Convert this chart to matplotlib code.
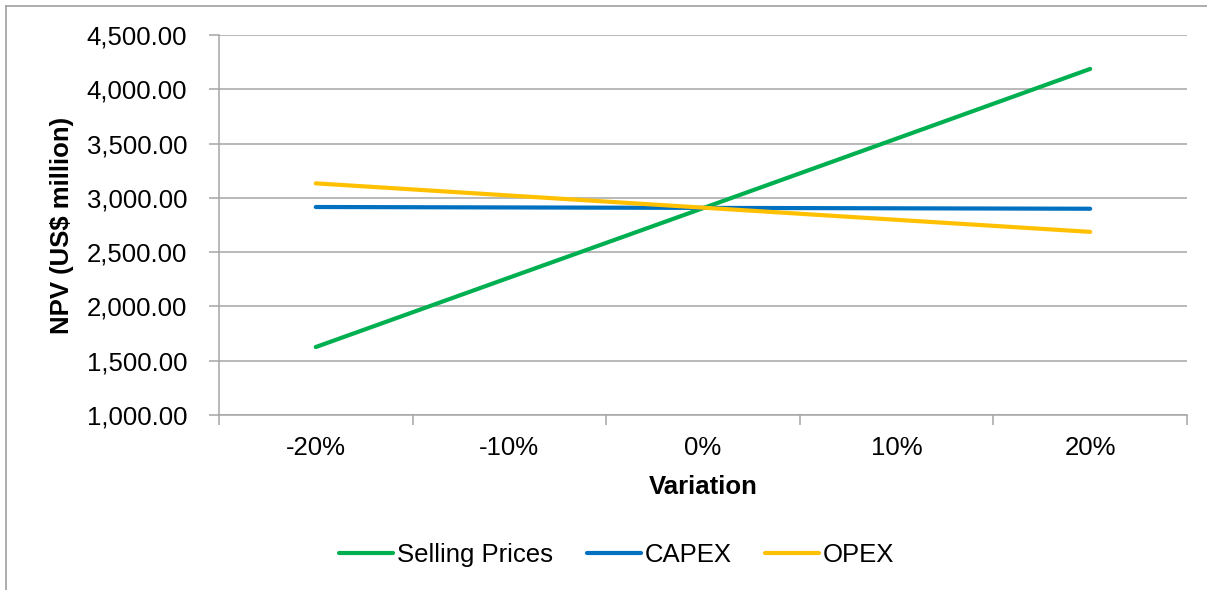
import matplotlib
matplotlib.use("Agg")
import matplotlib.pyplot as plt
from matplotlib.lines import Line2D
from matplotlib.ticker import FuncFormatter, FixedLocator

plt.rcParams['font.family'] = ['Liberation Sans', 'DejaVu Sans']

variation = ["-20%", "-10%", "0%", "10%", "20%"]
selling_prices = [1626, 2266, 2905, 3546, 4188]
capex = [2916, 2912, 2908, 2904, 2900]
opex = [3134, 3022, 2910, 2798, 2687]

FS = 18.5

fig = plt.figure(figsize=(12.07, 5.90), dpi=100)
ax = fig.add_axes([0.1814, 0.2966, 0.802, 0.644])

x = range(len(variation))
ax.plot(x, selling_prices, color="#00B050", lw=3, label="Selling Prices", solid_capstyle="round")
ax.plot(x, capex, color="#0070C0", lw=3, label="CAPEX", solid_capstyle="round")
ax.plot(x, opex, color="#FFC000", lw=3, label="OPEX", solid_capstyle="round")

ax.set_xlim(-0.5, len(variation) - 0.5)
ax.set_ylim(1000, 4500)
ax.set_yticks(range(1000, 4501, 500))
ax.yaxis.set_major_formatter(FuncFormatter(lambda v, p: f"{v:,.2f}"))
ax.grid(axis="y", color="#A6A6A6", lw=1.1)
ax.set_axisbelow(True)

# category labels centred, tick marks at boundaries
ax.set_xticks(list(x))
ax.set_xticklabels(variation)
ax.tick_params(axis="x", which="major", length=0, pad=15, labelsize=FS)
ax.xaxis.set_minor_locator(FixedLocator([i - 0.5 for i in range(len(variation) + 1)]))
ax.tick_params(axis="x", which="minor", length=7, color="#A6A6A6", width=1.1)
ax.tick_params(axis="y", length=7, color="#A6A6A6", width=1.1, labelsize=FS, pad=16)

for s in ["top", "right"]:
    ax.spines[s].set_visible(False)
for s in ["left", "bottom"]:
    ax.spines[s].set_color("#A6A6A6")
    ax.spines[s].set_linewidth(1.1)

ax.set_xlabel("Variation", fontsize=FS, fontweight="bold", labelpad=11)
ax.set_ylabel("NPV (US\\$ million)", fontsize=FS, fontweight="bold", labelpad=9)

fig.legend(loc="center", bbox_to_anchor=(0.511, 0.059), ncol=3, frameon=False,
           fontsize=FS, handlelength=2.1, handletextpad=0.15, columnspacing=1.3)

# outer chart frame (cropped on right and bottom)
fig.add_artist(Line2D([6 / 1207, 6 / 1207], [0, 584 / 590], color="#A0A0A0", lw=1.2))
fig.add_artist(Line2D([6 / 1207, 1], [584 / 590, 584 / 590], color="#A0A0A0", lw=1.2))

fig.savefig("out.png", dpi=100)
